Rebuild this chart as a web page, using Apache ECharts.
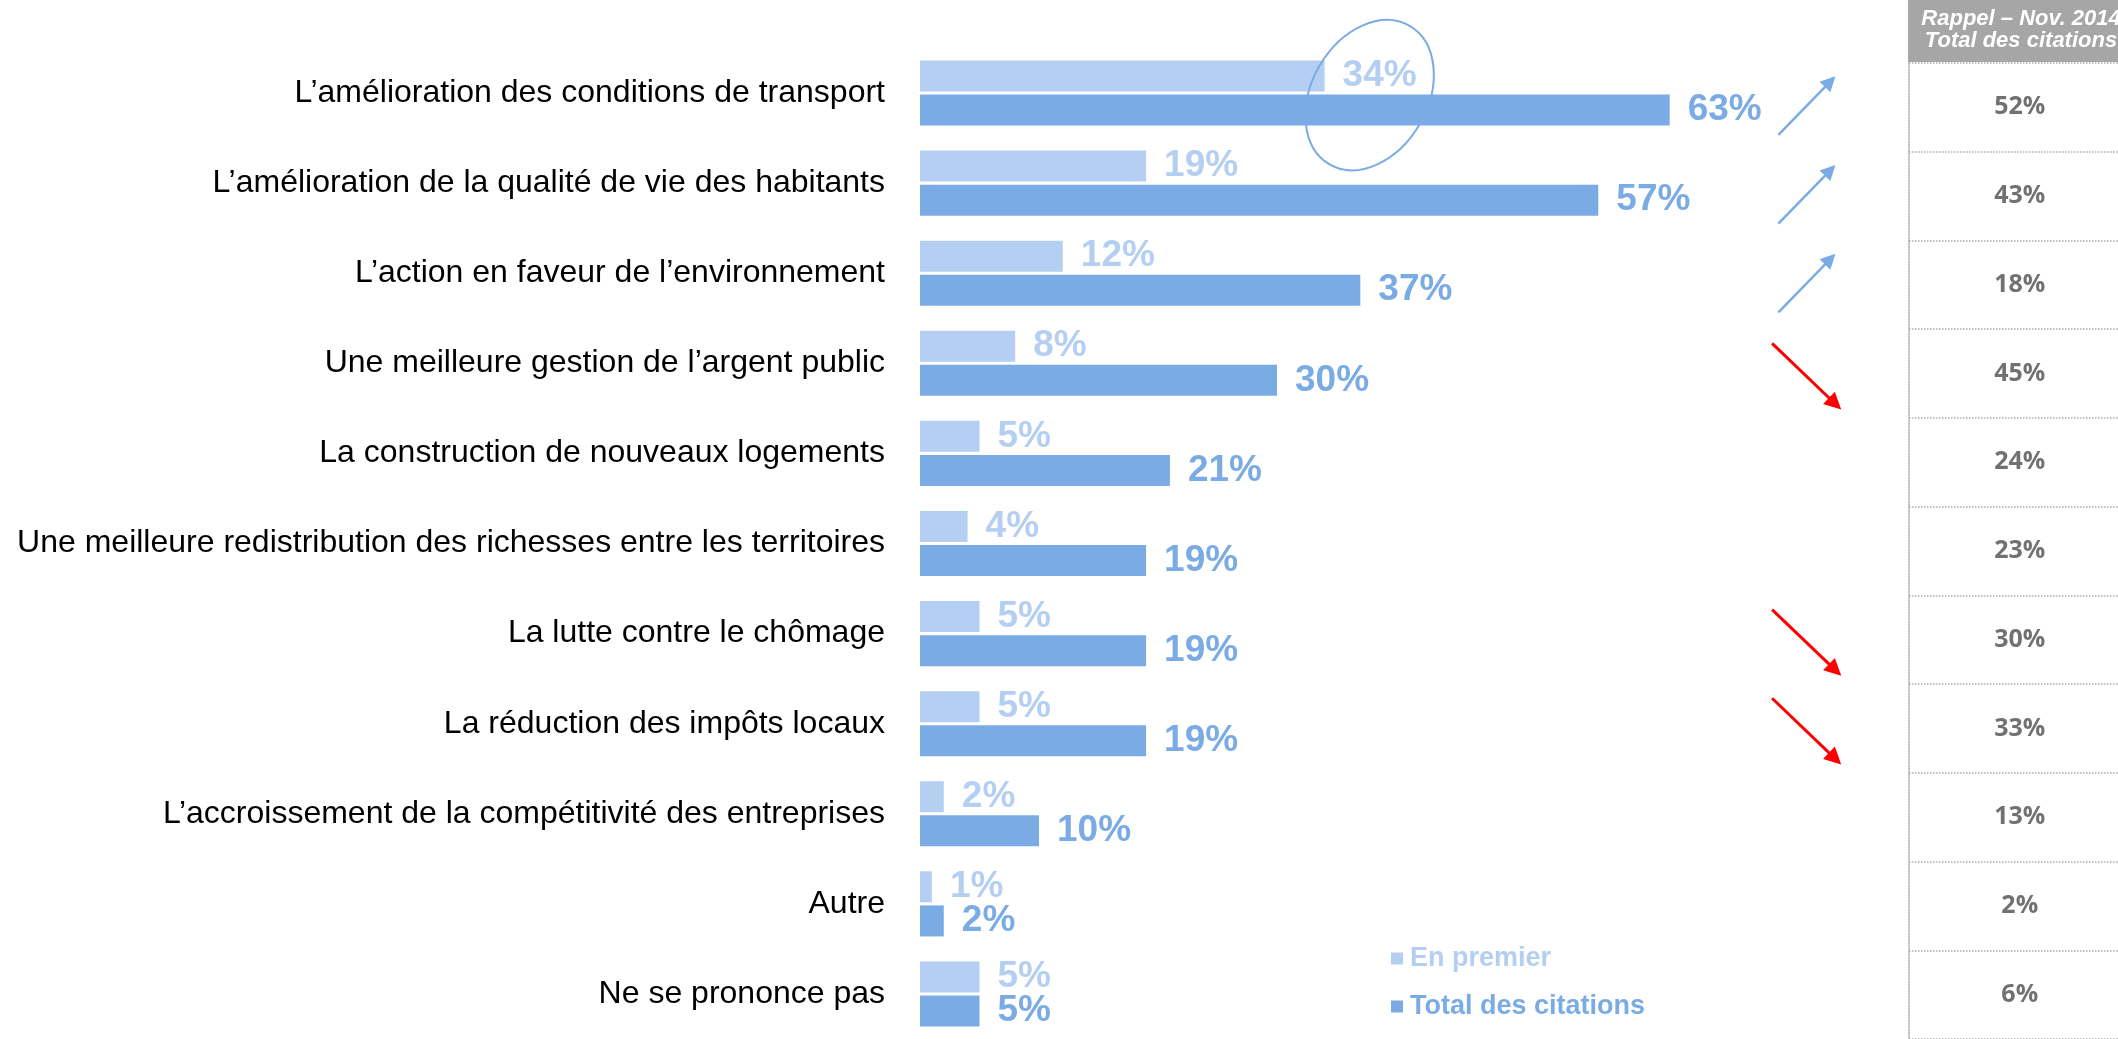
<!DOCTYPE html>
<html>
<head>
<meta charset="utf-8">
<script src="https://cdn.jsdelivr.net/npm/echarts@6/dist/echarts.min.js"></script>
<style>
  html, body { margin: 0; padding: 0; background: #fff; }
  #main { width: 2118px; height: 1039px; }
</style>
</head>
<body>
<div id="main"></div>
<script>
// données
var categories = [
    "L’amélioration des conditions de transport",
    "L’amélioration de la qualité de vie des habitants",
    "L’action en faveur de l’environnement",
    "Une meilleure gestion de l’argent public",
    "La construction de nouveaux logements",
    "Une meilleure redistribution des richesses entre les territoires",
    "La lutte contre le chômage",
    "La réduction des impôts locaux",
    "L’accroissement de la compétitivité des entreprises",
    "Autre",
    "Ne se prononce pas"
];
var enPremier = [34, 19, 12, 8, 5, 4, 5, 5, 2, 1, 5];
var totalCitations = [63, 57, 37, 30, 21, 19, 19, 19, 10, 2, 5];
var rappelNov2014 = [52, 43, 18, 45, 24, 23, 30, 33, 13, 2, 6];
var tendance = ["up", "up", "up", "down", "", "", "down", "down", "", "", ""];
var seriesNames = ["En premier", "Total des citations"];
var headerLines = ["Rappel – Nov. 2014", "Total des citations"];

var LIGHT = "#B4CFF1";
var DARK = "#7BABE5";
var GREY_TXT = "#4D4D4D";
var DOT = "#B3ABA7";
var FONT = "Liberation Sans, Arial, sans-serif";

var myChart = echarts.init(document.getElementById("main"));

// fleches de tendance
var arrowsUp = [];
var arrowsDown = [];
for (var i = 0; i < tendance.length; i++) {
    var c = i + 0.5;
    if (tendance[i] == "up") {
        arrowsUp.push({ coords: [[0.12, c + 0.31], [0.86, c - 0.29]] });
    } else if (tendance[i] == "down") {
        arrowsDown.push({ coords: [[0.03, c - 0.34], [0.93, c + 0.34]] });
    }
}

var option = {
    animation: false,
    backgroundColor: "#fff",
    legend: {
        orient: "vertical",
        left: 1386,
        top: 940,
        itemWidth: 12,
        itemHeight: 12,
        itemGap: 21,
        icon: "rect",
        data: [
            { name: seriesNames[0], textStyle: { color: LIGHT } },
            { name: seriesNames[1], textStyle: { color: DARK } }
        ],
        textStyle: { fontFamily: FONT, fontSize: 27, fontWeight: "bold", padding: [0, 0, 0, 2] }
    },
    grid: [
        { left: 920, top: 48, width: 1190, height: 994 },
        { left: 1909, top: 63, width: 220, height: 979 },
        { left: 1770, top: 63, width: 70, height: 979 }
    ],
    xAxis: [
        { gridIndex: 0, type: "value", min: 0, max: 100, show: false },
        { gridIndex: 1, type: "value", min: 0, max: 1, show: false },
        { gridIndex: 2, type: "value", min: 0, max: 1, show: false }
    ],
    yAxis: [
        {
            gridIndex: 0, type: "category", inverse: true, data: categories,
            axisLine: { show: false }, axisTick: { show: false }, splitLine: { show: false },
            axisLabel: { color: "#000", fontFamily: FONT, fontSize: 32, margin: 35 }
        },
        {
            gridIndex: 1, type: "category", inverse: true, data: categories,
            axisLine: { show: true, lineStyle: { color: DOT, type: "dotted", width: 1.5 } },
            axisTick: { show: false }, axisLabel: { show: false },
            splitLine: { show: true, lineStyle: { color: DOT, type: "dotted", width: 1.5 } }
        },
        { gridIndex: 2, type: "value", min: 0, max: 11, inverse: true, show: false }
    ],
    series: [
        {
            name: seriesNames[0], type: "bar", xAxisIndex: 0, yAxisIndex: 0,
            data: enPremier, barWidth: 31, barGap: "10%",
            itemStyle: { color: LIGHT },
            label: {
                show: true, position: "right", distance: 18, formatter: "{c}%",
                color: LIGHT, fontFamily: FONT, fontSize: 37, fontWeight: "bold"
            }
        },
        {
            name: seriesNames[1], type: "bar", xAxisIndex: 0, yAxisIndex: 0,
            data: totalCitations, barWidth: 31, barGap: "10%",
            itemStyle: { color: DARK },
            label: {
                show: true, position: "right", distance: 18, formatter: "{c}%",
                color: DARK, fontFamily: FONT, fontSize: 37, fontWeight: "bold"
            }
        },
        {
            name: "rappel", type: "scatter", xAxisIndex: 1, yAxisIndex: 1,
            symbolSize: 0, silent: true,
            data: rappelNov2014.map(function (v, i) { return [0.53, i, v]; }),
            label: {
                show: true, position: "inside",
                formatter: function (p) { return p.value[2] + "%"; },
                color: GREY_TXT, fontFamily: "Open Sans, sans-serif", fontSize: 25, fontWeight: "bold"
            }
        },
        {
            name: "hausse", type: "lines", coordinateSystem: "cartesian2d",
            xAxisIndex: 2, yAxisIndex: 2, silent: true,
            symbol: ["none", "triangle"], symbolSize: 15,
            lineStyle: { color: DARK, width: 2.5, opacity: 1 },
            data: arrowsUp
        },
        {
            name: "baisse", type: "lines", coordinateSystem: "cartesian2d",
            xAxisIndex: 2, yAxisIndex: 2, silent: true,
            symbol: ["none", "triangle"], symbolSize: 17,
            lineStyle: { color: "#FF0000", width: 3, opacity: 1 },
            data: arrowsDown
        }
    ],
    graphic: [
        {
            type: "rect", id: "entete", left: 1908, top: 0,
            shape: { width: 210, height: 62 },
            style: { fill: "#A6A6A6" }
        },
        {
            type: "text", id: "entete1", x: 2021, y: 19,
            style: {
                text: headerLines[0], fill: "#fff", font: "italic bold 22px Liberation Sans, Arial, sans-serif",
                textAlign: "center", textVerticalAlign: "middle"
            }
        },
        {
            type: "text", id: "entete2", x: 2021, y: 41,
            style: {
                text: headerLines[1], fill: "#fff", font: "italic bold 22px Liberation Sans, Arial, sans-serif",
                textAlign: "center", textVerticalAlign: "middle"
            }
        }
    ]
};

myChart.setOption(option);

// ellipse autour du 34%
var pt = myChart.convertToPixel({ gridIndex: 0 }, [enPremier[0], 0]);
myChart.setOption({
    graphic: [{
        type: "ellipse", id: "cercle",
        x: pt[0] + 45, y: pt[1] + 2,
        rotation: -Math.PI / 6,
        shape: { cx: 0, cy: 0, rx: 58, ry: 80 },
        style: { fill: "none", stroke: DARK, lineWidth: 2 },
        z: 100
    }]
});
</script>
</body>
</html>
